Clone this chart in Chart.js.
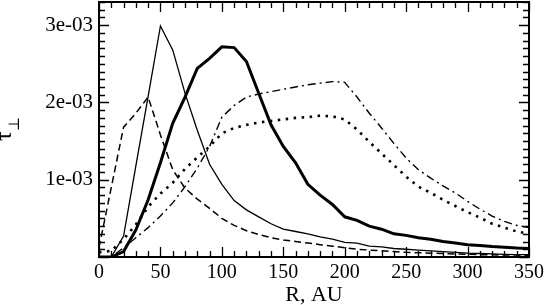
<!DOCTYPE html>
<html>
<head>
<meta charset="utf-8">
<script src="https://cdn.jsdelivr.net/npm/chart.js@4.4.1/dist/chart.umd.min.js"></script>
<style>
  html, body { margin: 0; padding: 0; background: #fff; }
  #wrap { width: 546px; height: 305px; position: relative; }
</style>
</head>
<body>
<div id="wrap"><canvas id="c" width="546" height="305"></canvas></div>
<script>
// Radius, AU
const R = [0,10,20,30,40,50,60,70,80,90,100,110,120,130,140,150,160,170,180,190,200,210,220,230,240,250,260,270,280,290,300,310,320,330,340,350];
// tau values in units of 1e-3
const thinSolid = [0.0,0.0,0.27,1.18,2.08,2.99,2.68,2.12,1.64,1.20,0.94,0.73,0.61,0.52,0.43,0.36,0.33,0.30,0.26,0.23,0.19,0.18,0.14,0.13,0.11,0.10,0.09,0.08,0.07,0.06,0.05,0.045,0.04,0.035,0.03,0.03];
const thickSolid = [0.0,0.0,0.07,0.35,0.74,1.22,1.73,2.07,2.44,2.57,2.72,2.71,2.53,2.12,1.71,1.43,1.22,0.94,0.80,0.68,0.52,0.475,0.40,0.36,0.30,0.28,0.25,0.23,0.20,0.18,0.16,0.15,0.135,0.125,0.115,0.11];
const dashed = [0.12,0.90,1.68,1.86,2.07,1.58,1.13,0.89,0.75,0.63,0.50,0.41,0.34,0.29,0.25,0.22,0.20,0.18,0.16,0.14,0.12,0.10,0.09,0.08,0.07,0.06,0.055,0.05,0.045,0.04,0.035,0.03,0.03,0.025,0.025,0.02];
const dotted = [0.06,0.08,0.23,0.42,0.65,0.82,0.96,1.14,1.29,1.43,1.60,1.67,1.71,1.74,1.76,1.78,1.80,1.81,1.83,1.82,1.78,1.65,1.49,1.34,1.19,1.04,0.91,0.83,0.74,0.66,0.58,0.51,0.43,0.38,0.33,0.30];
const dashDot = [0.0,0.0,0.12,0.25,0.38,0.53,0.70,0.91,1.15,1.43,1.81,1.96,2.07,2.11,2.14,2.17,2.20,2.23,2.25,2.27,2.26,2.07,1.86,1.67,1.47,1.28,1.13,1.02,0.92,0.83,0.72,0.62,0.53,0.46,0.41,0.38];
const xTicks = [0,50,100,150,200,250,300,350];
const yTicks = [1e-3,2e-3,3e-3];
const yTickLabels = ['1e-03','2e-03','3e-03'];
const xTitle = 'R, AU';
const yTitleMain = 'τ';
const yTitleSub = '⊥';

const FONT = "'Liberation Serif', 'DejaVu Serif', serif";

function pts(arr) { return R.map((r, i) => ({ x: r, y: arr[i] * 1e-3 })); }

const framePlugin = {
  id: 'frameTicks',
  afterDatasetsDraw(chart) {
    const { ctx, chartArea: a, scales } = chart;
    const xs = scales.x, ys = scales.y;
    ctx.save();
    ctx.strokeStyle = '#000';
    ctx.lineWidth = 1.3;
    ctx.beginPath();
    for (let v = 0; v <= 350; v += 10) {
      const px = Math.round(xs.getPixelForValue(v)) + 0.5;
      const len = (v % 50 === 0) ? 10 : 6;
      ctx.moveTo(px, a.bottom); ctx.lineTo(px, a.bottom - len);
      ctx.moveTo(px, a.top); ctx.lineTo(px, a.top + len);
    }
    for (let k = 0; k <= 33; k++) {
      const py = Math.round(ys.getPixelForValue(k * 1e-4)) + 0.5;
      const len = (k % 10 === 0) ? 10 : 6;
      ctx.moveTo(a.left, py); ctx.lineTo(a.left + len, py);
      ctx.moveTo(a.right, py); ctx.lineTo(a.right - len, py);
    }
    ctx.stroke();
    ctx.lineWidth = 2;
    ctx.strokeRect(a.left, a.top, a.right - a.left, a.bottom - a.top);
    ctx.restore();
  },
  afterDraw(chart) {
    const { ctx } = chart;
    ctx.save();
    ctx.fillStyle = '#000';
    ctx.translate(11, 141);
    ctx.rotate(-Math.PI / 2);
    ctx.textBaseline = 'alphabetic';
    ctx.textAlign = 'left';
    ctx.font = "24px " + FONT;
    ctx.fillText(yTitleMain, 0, 0);
    const w = ctx.measureText(yTitleMain).width;
    ctx.font = "15px " + FONT;
    ctx.fillText(yTitleSub, w, 8);
    ctx.restore();
  }
};

new Chart(document.getElementById('c'), {
  type: 'line',
  data: {
    datasets: [
      { data: pts(thinSolid), borderColor: '#000', borderWidth: 1.3 },
      { data: pts(thickSolid), borderColor: '#000', borderWidth: 3 },
      { data: pts(dashed), borderColor: '#000', borderWidth: 1.5, borderDash: [7, 4] },
      { data: pts(dotted), borderColor: '#000', borderWidth: 2.6, borderDash: [2.5, 5.5] },
      { data: pts(dashDot), borderColor: '#000', borderWidth: 1.4, borderDash: [8, 4, 2, 4] }
    ]
  },
  options: {
    responsive: false,
    animation: false,
    devicePixelRatio: 1,
    layout: { padding: { left: 0, right: 17, top: 2, bottom: 0 } },
    elements: { point: { radius: 0 }, line: { tension: 0, fill: false } },
    plugins: { legend: { display: false }, tooltip: { enabled: false } },
    scales: {
      x: {
        type: 'linear', min: 0, max: 350,
        grid: { display: false, drawTicks: false },
        border: { display: false },
        afterBuildTicks(s) { s.ticks = xTicks.map(v => ({ value: v })); },
        ticks: { color: '#000', padding: 4, maxRotation: 0, autoSkip: false,
                 font: { family: FONT, size: 20 } },
        title: { display: true, text: xTitle, color: '#000',
                 font: { family: FONT, size: 22 }, padding: { top: 0, bottom: -3 } },
        afterFit(s) { s.height = 48; s.paddingLeft = 0; s.paddingRight = 0; }
      },
      y: {
        type: 'linear', min: 0, max: 3.3e-3,
        grid: { display: false, drawTicks: false },
        border: { display: false },
        afterBuildTicks(s) { s.ticks = yTicks.map(v => ({ value: v })); },
        ticks: { color: '#000', padding: 6, autoSkip: false,
                 font: { family: FONT, size: 21 },
                 callback(v) { const i = yTicks.findIndex(t => Math.abs(t - v) < 1e-9); return i >= 0 ? yTickLabels[i] : ''; } },
        afterFit(s) { s.width = 99; s.paddingTop = 0; s.paddingBottom = 0; }
      }
    }
  },
  plugins: [framePlugin]
});
</script>
</body>
</html>
